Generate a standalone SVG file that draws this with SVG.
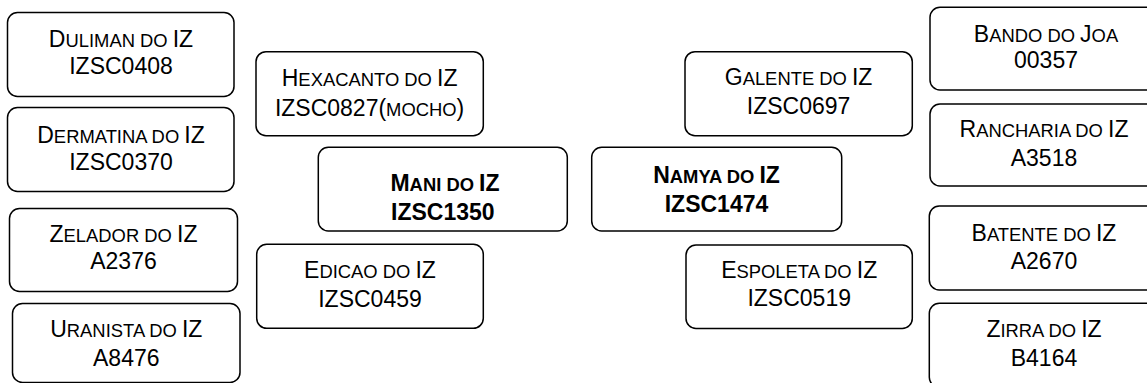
<svg xmlns="http://www.w3.org/2000/svg" width="1147" height="383" viewBox="0 0 1147 383">
<style>
rect.box{fill:#fff;stroke:#000;stroke-width:1.5}
text{font-family:"Liberation Sans",Arial,sans-serif;font-size:23px;fill:#000;text-anchor:middle}
text.b{font-weight:bold}
.sc{font-size:18.4px}
</style>
<rect width="1147" height="383" fill="#fff"/>
<g id="connectors"/>
<g id="duliman"><rect class="box" x="7.5" y="12.5" width="226.5" height="84" rx="10"/>
<text x="121" y="46.5">D<tspan class="sc">ULIMAN DO </tspan>IZ</text><text x="121" y="74">IZSC0408</text></g>
<g id="dermatina"><rect class="box" x="7.5" y="107.5" width="226.5" height="84" rx="10"/>
<text x="121" y="142.5">D<tspan class="sc">ERMATINA DO </tspan>IZ</text><text x="121" y="170">IZSC0370</text></g>
<g id="zelador"><rect class="box" x="9.5" y="208.5" width="228" height="83" rx="10"/>
<text x="123.5" y="242.3">Z<tspan class="sc">ELADOR DO </tspan>IZ</text><text x="123.5" y="269">A2376</text></g>
<g id="uranista"><rect class="box" x="12.5" y="303.5" width="227.5" height="79" rx="10"/>
<text x="126.3" y="336.7">U<tspan class="sc">RANISTA DO </tspan>IZ</text><text x="126.3" y="365.5">A8476</text></g>
<g id="hexacanto"><rect class="box" x="256" y="51.7" width="227.3" height="84" rx="10"/>
<text x="369.6" y="86.2">H<tspan class="sc">EXACANTO DO </tspan>IZ</text><text x="369.6" y="115.5">IZSC0827(<tspan class="sc">MOCHO</tspan>)</text></g>
<g id="edicao"><rect class="box" x="256.7" y="244.3" width="226.6" height="84" rx="10"/>
<text x="370" y="278.3">E<tspan class="sc">DICAO DO </tspan>IZ</text><text x="370" y="306.7">IZSC0459</text></g>
<g id="mani"><rect class="box" x="318.3" y="147.3" width="249" height="83.7" rx="10"/>
<text class="b" x="445" y="190.7">M<tspan class="sc">ANI DO </tspan>IZ</text><text class="b" x="442.8" y="220">IZSC1350</text></g>
<g id="namya"><rect class="box" x="591.7" y="147.3" width="250" height="83.7" rx="10"/>
<text class="b" x="716.5" y="182.7">N<tspan class="sc">AMYA DO </tspan>IZ</text><text class="b" x="716.5" y="211.7">IZSC1474</text></g>
<g id="galente"><rect class="box" x="685" y="51.7" width="227.3" height="84" rx="10"/>
<text x="798.6" y="85">G<tspan class="sc">ALENTE DO </tspan>IZ</text><text x="798.6" y="114">IZSC0697</text></g>
<g id="espoleta"><rect class="box" x="686" y="245" width="226.3" height="83.5" rx="10"/>
<text x="799.2" y="278.3">E<tspan class="sc">SPOLETA DO </tspan>IZ</text><text x="799.2" y="306">IZSC0519</text></g>
<g id="bando"><rect class="box" x="930" y="7.3" width="228" height="82.7" rx="10"/>
<text x="1046" y="41.7">B<tspan class="sc">ANDO DO </tspan>J<tspan class="sc">OA</tspan></text><text x="1046" y="68.3">00357</text></g>
<g id="rancharia"><rect class="box" x="930" y="104" width="228" height="82" rx="10"/>
<text x="1044" y="137.3">R<tspan class="sc">ANCHARIA DO </tspan>IZ</text><text x="1044" y="165.7">A3518</text></g>
<g id="batente"><rect class="box" x="929.3" y="206" width="229" height="84" rx="10"/>
<text x="1044" y="240.7">B<tspan class="sc">ATENTE DO </tspan>IZ</text><text x="1044" y="269">A2670</text></g>
<g id="zirra"><rect class="box" x="929.3" y="303.3" width="229" height="84" rx="10"/>
<text x="1044" y="336.7">Z<tspan class="sc">IRRA DO </tspan>IZ</text><text x="1044" y="365.7">B4164</text></g>
</svg>
